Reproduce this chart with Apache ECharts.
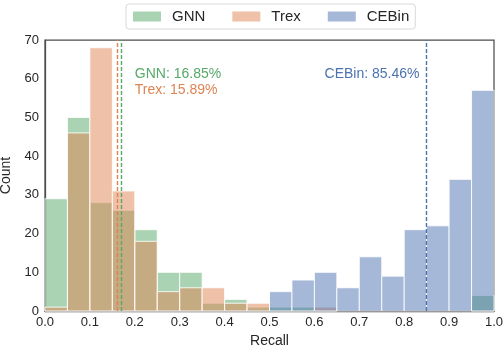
<!DOCTYPE html>
<html>
<head>
<meta charset="utf-8">
<script src="https://cdn.jsdelivr.net/npm/echarts@6/dist/echarts.min.js"></script>
<style>
  html, body { margin: 0; padding: 0; background: #fff; }
  #chart { width: 504px; height: 346px; }
</style>
</head>
<body>
<div id="chart"></div>
<script>
// Histogram bins: 20 bins of width 0.05 over [0, 1]
const binEdges = [0.00, 0.05, 0.10, 0.15, 0.20, 0.25, 0.30, 0.35, 0.40, 0.45, 0.50,
                  0.55, 0.60, 0.65, 0.70, 0.75, 0.80, 0.85, 0.90, 0.95, 1.00];

// Counts per bin
const gnnCounts   = [29, 50, 28, 26, 21, 10, 10, 2, 3, 1, 1, 1, 0, 0, 0, 0, 0, 0, 0, 4];
const trexCounts  = [1, 46, 68, 31, 18, 5, 6, 6, 2, 2, 0, 0, 1, 0, 0, 0, 0, 0, 0, 0];
const cebinCounts = [0, 0, 0, 0, 0, 0, 0, 0, 0, 0, 5, 8, 10, 6, 14, 9, 21, 22, 34, 57];

// Mean recall per method
const seriesNames = ['GNN', 'Trex', 'CEBin'];
const meanRecall  = [0.1685, 0.1589, 0.8546];
const meanLabels  = ['GNN: 16.85%', 'Trex: 15.89%', 'CEBin: 85.46%'];

const lineColors = ['#55a868', '#dd8452', '#4c72b0'];
const fillColors = ['rgba(85,168,104,0.5)', 'rgba(221,132,82,0.5)', 'rgba(76,114,176,0.5)'];
const allCounts = [gnnCounts, trexCounts, cebinCounts];

const FONT = 'Liberation Sans, Arial, sans-serif';

function histData(counts) {
  return counts.map((c, i) => [binEdges[i], binEdges[i + 1], c]);
}

function renderBar(params, api) {
  const p0 = api.coord([api.value(0), 0]);
  const p1 = api.coord([api.value(1), api.value(2)]);
  if (api.value(2) <= 0) return null;
  return {
    type: 'rect',
    shape: { x: p0[0], y: p1[1], width: p1[0] - p0[0], height: p0[1] - p1[1] },
    style: { fill: api.visual('color'), stroke: 'rgba(255,255,255,0.85)', lineWidth: 1 }
  };
}

const series = seriesNames.map((name, k) => ({
  name: name,
  type: 'custom',
  renderItem: renderBar,
  itemStyle: { color: fillColors[k] },
  encode: { x: [0, 1], y: 2 },
  data: histData(allCounts[k]),
  z: 2 + k,
  markLine: {
    silent: true,
    symbol: 'none',
    label: { show: false },
    lineStyle: { color: lineColors[k], type: [4, 2], width: 1.4 },
    data: [{ xAxis: meanRecall[k] }],
    z: 10
  }
}));

const chart = echarts.init(document.getElementById('chart'), null, { renderer: 'canvas' });
chart.setOption({
  animation: false,
  backgroundColor: '#fff',
  grid: { left: 45, right: 10, top: 40, bottom: 35, containLabel: false, outerBoundsMode: 'none',
          show: true, borderColor: '#4d4d4d', borderWidth: 1.25 },
  legend: {
    data: seriesNames.map((n, k) => ({ name: n, itemStyle: { color: fillColors[k] } })),
    top: 4,
    left: 126,
    icon: 'rect',
    itemWidth: 28,
    itemHeight: 10,
    itemGap: 27,
    padding: [5, 6, 5, 7],
    borderColor: '#d9d9d9',
    borderWidth: 1,
    borderRadius: 3,
    backgroundColor: '#fff',
    textStyle: { fontFamily: FONT, fontSize: 15, color: '#262626', padding: [0, 0, 0, 6] }
  },
  xAxis: {
    type: 'value',
    min: 0, max: 1, interval: 0.1,
    name: 'Recall',
    nameLocation: 'middle',
    nameGap: 22,
    nameTextStyle: { fontFamily: FONT, fontSize: 14, color: '#262626' },
    axisLine: { show: true, lineStyle: { color: '#4d4d4d', width: 1.25 } },
    axisTick: { show: false },
    splitLine: { show: false },
    axisLabel: { fontFamily: FONT, fontSize: 13, color: '#262626', margin: 5,
                 formatter: v => v.toFixed(1) }
  },
  yAxis: {
    type: 'value',
    min: 0, max: 70, interval: 10,
    name: 'Count',
    nameLocation: 'middle',
    nameGap: 29,
    nameTextStyle: { fontFamily: FONT, fontSize: 14, color: '#262626' },
    axisLine: { show: true, lineStyle: { color: '#4d4d4d', width: 1.25 } },
    axisTick: { show: false },
    splitLine: { show: false },
    axisLabel: { fontFamily: FONT, fontSize: 13, color: '#262626', margin: 6 }
  },
  series: series
});

// Mean-value annotations placed in data coordinates
const annot = [
  { x: 0.20, y: 61.2, align: 'left' },
  { x: 0.20, y: 57.0, align: 'left' },
  { x: 0.834, y: 61.2, align: 'right' }
];
chart.setOption({
  graphic: annot.map((a, k) => {
    const p = chart.convertToPixel({ gridIndex: 0 }, [a.x, a.y]);
    return {
      type: 'text',
      x: p[0], y: p[1], z: 20,
      style: { text: meanLabels[k], fill: lineColors[k], font: '14px ' + FONT,
               textAlign: a.align, textVerticalAlign: 'middle' }
    };
  })
});
</script>
</body>
</html>
